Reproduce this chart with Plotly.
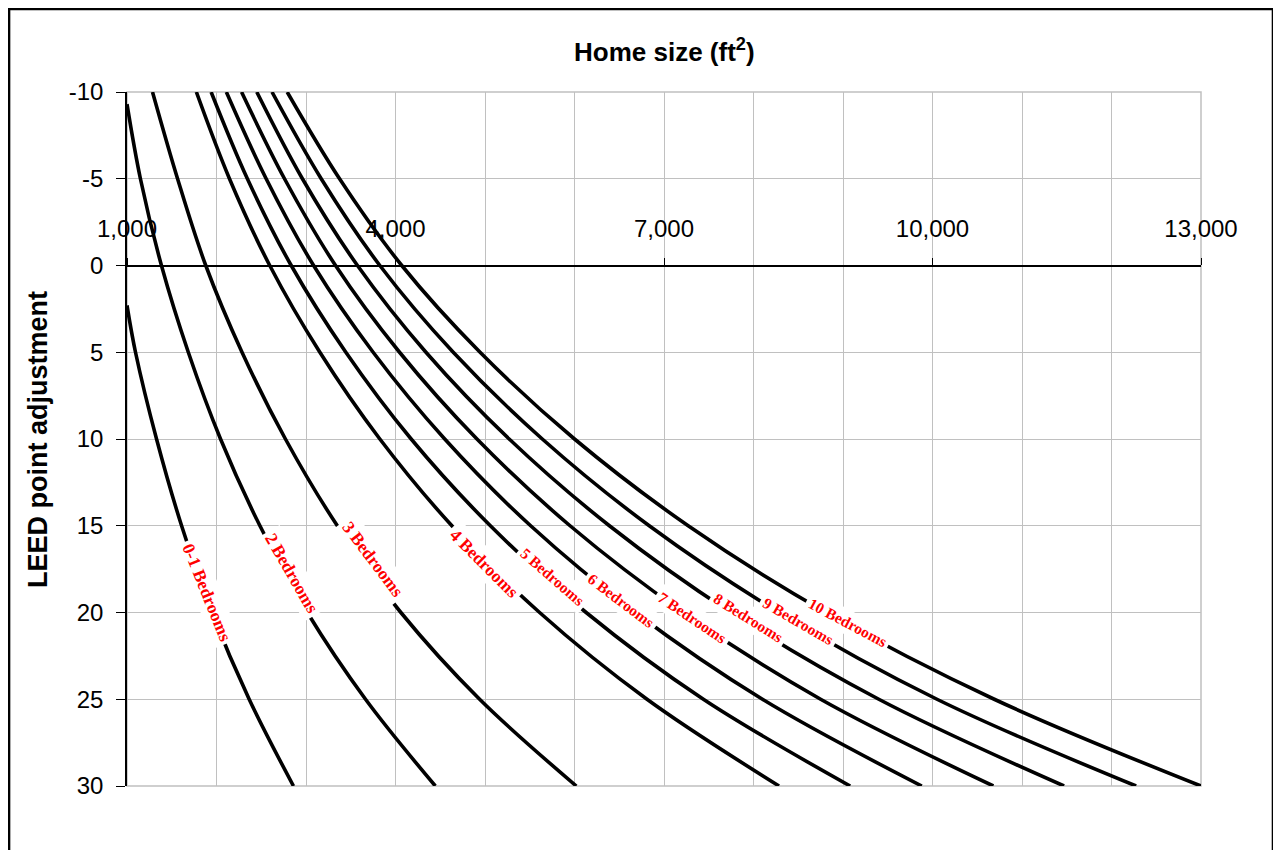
import plotly.graph_objects as go

# ---- data ----
# LEED point adjustment levels at which home sizes were read
points_full = [-10, -5, 0, 5, 10, 15, 20, 25, 30]

# 0-1 bedrooms starts at the left edge (1,000 ft2)
points_0_1 = [2.3, 5, 10, 15, 20, 25, 30]
size_0_1 = [1000, 1095, 1330, 1610, 1950, 2365, 2860]

# 2 bedrooms starts at the left edge too
points_2 = [-9.3, -5, 0, 5, 10, 15, 20, 25, 30]
size_2 = [1000, 1150, 1385, 1685, 2045, 2485, 3015, 3665, 4445]

size_3 = [1285, 1565, 1880, 2285, 2770, 3350, 4060, 4940, 6020]
size_4 = [1775, 2145, 2595, 3155, 3825, 4630, 5610, 6810, 8285]
size_5 = [1940, 2345, 2835, 3445, 4175, 5060, 6130, 7440, 9080]
size_6 = [2110, 2555, 3085, 3750, 4550, 5510, 6680, 8100, 9880]
size_7 = [2280, 2760, 3330, 4045, 4910, 5950, 7215, 8750, 10680]
size_8 = [2450, 2960, 3575, 4340, 5270, 6390, 7745, 9400, 11470]
size_9 = [2620, 3170, 3825, 4645, 5640, 6835, 8285, 10050, 12275]
size_10 = [2790, 3375, 4070, 4945, 6000, 7270, 8810, 10690, 13000]

curve_names = ["0-1 Bedrooms", "2 Bedrooms", "3 Bedrooms", "4 Bedrooms", "5 Bedrooms",
               "6 Bedrooms", "7 Bedrooms", "8 Bedrooms", "9 Bedrooms", "10 Bedrooms"]

# label anchor (size, points) and rotation along each curve
label_size = [1894, 2844, 3749, 4989, 5749, 6520, 7313, 7939, 8508, 9056]
label_points = [18.8, 17.7, 16.9, 17.15, 17.95, 19.3, 20.3, 20.3, 20.5, 20.55]
label_angle = [68, 60, 53, 45, 41, 37, 34, 32, 30, 28]
label_fontsize = [17.5, 17.5, 17.5, 17.5, 15.5, 15.5, 15.5, 15.5, 15.5, 15.5]

x_tick_vals = [1000, 4000, 7000, 10000, 13000]
x_tick_text = ["1,000", "4,000", "7,000", "10,000", "13,000"]
y_tick_vals = [-10, -5, 0, 5, 10, 15, 20, 25, 30]
y_tick_text = ["-10", "-5", "0", "5", "10", "15", "20", "25", "30"]

series = [
    (size_0_1, points_0_1),
    (size_2, points_2),
    (size_3, points_full),
    (size_4, points_full),
    (size_5, points_full),
    (size_6, points_full),
    (size_7, points_full),
    (size_8, points_full),
    (size_9, points_full),
    (size_10, points_full),
]

fig = go.Figure()
for (xs, ys), name in zip(series, curve_names):
    fig.add_trace(go.Scatter(
        x=xs, y=ys, mode="lines", name=name,
        line=dict(color="black", width=3.6, shape="spline", smoothing=1.0),
        showlegend=False, hoverinfo="skip", cliponaxis=True,
    ))

for name, lx, ly, ang, fs in zip(curve_names, label_size, label_points, label_angle, label_fontsize):
    fig.add_annotation(
        x=lx, y=ly, xref="x", yref="y", text="<b>" + name + "</b>", showarrow=False,
        textangle=ang, bgcolor="white", borderpad=3,
        font=dict(family="Liberation Serif", size=fs, color="#ff0000"),
    )

# axis titles
fig.add_annotation(
    x=0.5, y=1.0605, xref="paper", yref="paper", showarrow=False,
    text="<b>Home size (ft<sup>2</sup>)</b>",
    font=dict(family="Liberation Sans", size=26, color="black"),
    xanchor="center", yanchor="middle",
)
fig.add_annotation(
    x=-0.0829, y=0.5, xref="paper", yref="paper", showarrow=False,
    text="<b>LEED point adjustment</b>", textangle=-90,
    font=dict(family="Liberation Sans", size=27, color="black"),
    xanchor="center", yanchor="middle",
)

# plot-area frame (grey) and outer chart border (black)
fig.add_shape(type="rect", xref="paper", yref="paper", x0=0, x1=1, y0=0, y1=1,
              line=dict(color="#c0c0c0", width=1.5), layer="below")
fig.add_shape(type="rect", xref="paper", yref="paper",
              x0=-0.1098, x1=1.067, y0=-0.0975, y1=1.1195,
              line=dict(color="black", width=2.5), layer="above")

# the page adds an 8px body margin, so the figure is sized to fit inside it
fig.update_layout(
    width=1273, height=842,
    margin=dict(l=119, r=80, t=84, b=64, pad=0),
    paper_bgcolor="white", plot_bgcolor="white",
    font=dict(family="Liberation Sans", size=24, color="black"),
    xaxis=dict(
        range=[1000, 13000], anchor="free", position=0.75, side="top",
        tickmode="array", tickvals=x_tick_vals, ticktext=x_tick_text,
        showline=True, linecolor="black", linewidth=1.5,
        ticks="outside", ticklen=7, tickcolor="black", tickwidth=1.2,
        ticklabelstandoff=11,
        showgrid=True, gridcolor="#c0c0c0", gridwidth=1.2,
        minor=dict(tickmode="linear", tick0=1000, dtick=1000, showgrid=True,
                   gridcolor="#c0c0c0", gridwidth=1.2, ticks=""),
        zeroline=False, tickfont=dict(size=24),
    ),
    yaxis=dict(
        range=[30, -10], tickmode="array", tickvals=y_tick_vals, ticktext=y_tick_text,
        showline=True, linecolor="black", linewidth=1.5,
        ticks="outside", ticklen=9, tickcolor="black", tickwidth=1.2,
        ticklabelstandoff=8,
        showgrid=True, gridcolor="#c0c0c0", gridwidth=1.2,
        zeroline=False, tickfont=dict(size=24),
    ),
)

fig.write_html("out.html")
